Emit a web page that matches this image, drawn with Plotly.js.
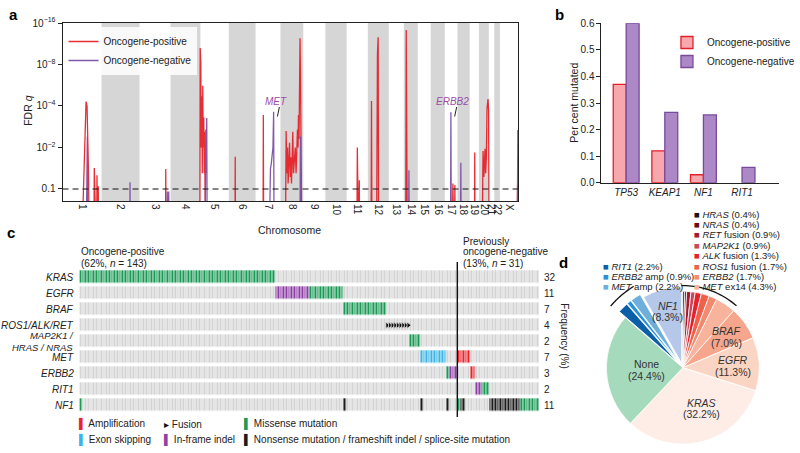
<!DOCTYPE html>
<html>
<head>
<meta charset="utf-8">
<script src="https://cdn.plot.ly/plotly-3.0.1.min.js"></script>
<style>html,body{margin:0;padding:0;background:#fff;}#chart{width:800px;height:453px;}</style>
</head>
<body>
<div id="chart"></div>
<script>
// ================= Panel a : FDR q along the genome =================
const chromNames = ['1','2','3','4','5','6','7','8','9','10','11','12','13','14','15','16','17','18','19','20','21','22','X'];
const chromLengthsMb = [249,243,198,191,181,171,159,146,141,136,135,134,96,89,83,90,81,78,59,63,35,36,155];
const genomeShownMb = 2910;
// oncogene-positive series (cumulative genome position in Mb, FDR q)
const posGenomeMb = [120.5,150.3,156.6,166.7,171.2,199.7,202.9,206.1,217.5,220.0,223.2,226.0,228.2,231.4,
  657.5,659.4,662.5,
  876.8,879.4,881.3,883.2,886.3,889.5,892.7,895.8,899.0,902.2,905.4,908.5,913.0,
  1101.3,1103.2,1105.1, 1280.7,1282.6,1285.1,
  1423.3,1428.4,1432.8,1437.3,1441.1,1445.5,1450.0,1455.0,1458.2,1462.6,1466.4,1470.9,1475.3,1480.4,1486.7,1491.8,1496.2,1500.7,1504.5,1507.0,1510.8,1513.3,1517.2,1520.3,1523.5,1526.7,1529.8,
  1879.8,1883.0,1886.2,1892.5,1895.7,1898.8,
  1970.5,1973.6,1976.8,2005.3,2007.9,2011.7,2016.1,2019.3,
  2191.7,2195.5,2198.7,2203.2,
  2488.5,2493.6,2498.0,2502.4,2506.2,2510.6,
  2631.1,2633.0,2635.6,
  2678.7,2681.8,2686.3,2691.3,2698.9,2702.7,2707.2,2711.6,2718.0,2721.8,2724.9,
  2900.6,2906.9,2910.0];
const posFdrQ = [0.5,5e-5,1e-4,0.066,0.5,0.5,0.038,0.5,0.5,0.055,0.5,0.5,0.09,0.5,
  0.5,0.04,0.5,
  0.5,3e-11,1e-3,6e-9,1e-2,2e-5,5e-2,2.5e-6,1e-2,5e-4,5e-2,2.5e-3,0.5,
  0.5,0.0195,0.5, 0.5,3.6e-4,0.5,
  0.5,2.3e-3,0.05,1e-2,0.08,0.02,6.8e-3,0.06,0.02,0.08,3e-3,2.5e-3,0.05,0.03,0.01,0.05,2.5e-3,2e-3,1e-2,3.6e-4,5e-3,2.2e-5,4e-13,6.3e-7,2e-3,0.02,0.5,
  0.5,0.01,0.5,0.5,0.07,0.5,
  0.5,4.5e-5,0.5,0.5,1.6e-7,3e-10,2.5e-13,0.5,
  0.5,6e-15,1e-4,0.5,
  0.5,0.08,0.09,0.5,0.085,0.5,
  0.5,0.0145,0.5,
  0.5,0.08,0.013,0.06,0.011,0.05,0.02,1.4e-4,3.2e-5,2e-4,0.5,
  0.5,0.085,0.5];
// oncogene-negative series
const negGenomeMb = [150.0,158.5,162.9, 429.2,431.1,433.0, 664.4,668.9,673.9,678.4,681.6,
  909.8,914.9,918.0,921.2,924.4,
  1318.7,1323.2,1328.2,1333.3,1337.7,1344.1,1348.5,1351.7,
  1515.3,1519.7,1522.9, 2209.5,2212.7,2215.8, 2477.7,2480.8,2484.0, 2541.1,2544.3,2547.4,
  2903.7,2908.5,2912.0];
const negFdrQ = [0.5,4e-3,0.5, 0.5,0.076,0.5, 0.5,0.11,0.5,0.11,0.5,
  0.5,2e-3,0.05,5.3e-4,0.5,
  0.5,0.06,0.04,0.03,0.014,0.01,2.3e-4,0.5,
  0.5,4e-3,0.5, 0.5,0.043,0.5, 0.5,2.5e-4,0.5, 0.5,0.028,0.5,
  0.5,2.1e-3,0.5];
const fdrThreshold = 0.1;
const peakLabels = ['MET','ERBB2'];
const peakLabelMb = [1348.5, 2480.8];

// ================= Panel b : per cent mutated =================
const barGenes = ['TP53','KEAP1','NF1','RIT1'];
const barPositive = [0.37,0.12,0.03,0];
const barNegative = [0.60,0.265,0.255,0.058];

// ================= Panel c : oncoprint =================
const oncoRows = ['KRAS','EGFR','BRAF','ROS1/ALK/RET','MAP2K1 /<br>HRAS / NRAS','MET','ERBB2','RIT1','NF1'];
const oncoFrequency = [32,11,7,4,2,7,3,2,11];
const nOncogenePositive = 143;
const nPreviouslyNegative = 31;
const nCohort = 230;
// alteration runs: row index, first sample, number of samples, type
const runRow   = [0,1,1,2,3,4,5,6,6,5,6,7,7,8,8,8,8,8,8,8,8];
const runStart = [0,74,87,100,116,125,129,139,140,143,148,150,152,0,100,129,139,143,144,155,167];
const runCount = [74,13,13,16,9,4,10,1,3,5,2,2,3,1,1,1,1,1,2,12,7];
const runType  = ['missense','inframe','missense','missense','fusion','missense','exonskip','missense','inframe','amp','amp','inframe','missense','missense','nonsense','nonsense','nonsense','missense','nonsense','nonsense','missense'];
const alterationTypes  = ['none','amp','fusion','missense','exonskip','inframe','nonsense'];
const alterationLabels = ['','Amplification','Fusion','Missense mutation','Exon skipping','In-frame indel','Nonsense mutation / frameshift indel / splice-site mutation'];
const alterationColors = ['#d3d3d3','#e8242c','#d3d3d3','#1b9a56','#3cb4e5','#8e3fa6','#1c1c1c'];

// ================= Panel d : pie =================
const pieGene   = ['HRAS','NRAS','RET','MAP2K1','ALK','ROS1','ERBB2','MET','BRAF','EGFR','KRAS','None','RIT1','ERBB2','MET','NF1'];
const pieSuffix = ['','',' fusion','',' fusion',' fusion','',' ex14','','','','','',' amp',' amp',''];
const pieValues = [0.4,0.4,0.9,0.9,1.3,1.7,1.7,4.3,7.0,11.3,32.2,24.4,2.2,0.9,2.2,8.3];
const pieColors = ['#151515','#6b0a14','#a3192e','#c9475a','#e5212b','#ee6049','#f38a6f','#f8b39c','#f5a68c','#fbd5c3','#fdede6','#a6dabd','#0b5ea8','#2a91d6','#6eaedb','#b5c8e9'];
const piePull   = [0,0,0,0,0,0,0,0,0,0,0,0,0.11,0.11,0.11,0.06];
const pieLegendRight = [0,1,2,3,4,5,6,7];
const pieLegendLeft  = [12,13,14];

// ---------------- helpers ----------------
const W = 800, H = 453;
const FONT = 'Liberation Sans, Arial, Helvetica, sans-serif';
const TXT = '#222';
const px = x => x / W;
const py = y => 1 - y / H;
const nlog = q => -Math.log10(q);

const chromStart = [];
{ let acc = 0; chromLengthsMb.forEach(l => { chromStart.push(acc); acc += l; }); }
const chromTick = chromStart.map((s, i) => (s + Math.min(s + chromLengthsMb[i], genomeShownMb)) / 2);

const shapes = [];
const annotations = [];
const traces = [];
function note(o) { annotations.push(Object.assign({showarrow: false, xanchor: 'center', yanchor: 'middle', xref: 'paper', yref: 'paper'}, o)); }

// chromosome bands
chromStart.forEach((s, i) => {
  if (i % 2 === 1) {
    shapes.push({type: 'rect', xref: 'x', yref: 'y domain', x0: s, x1: Math.min(s + chromLengthsMb[i], genomeShownMb),
      y0: 0, y1: 1, fillcolor: '#d6d6d6', line: {width: 0}, layer: 'below'});
  }
});

traces.push({type: 'scatter', mode: 'lines', x: posGenomeMb, y: posFdrQ.map(nlog), xaxis: 'x', yaxis: 'y',
  name: 'Oncogene-positive', line: {color: 'rgba(230,28,36,0.92)', width: 1.3}, hoverinfo: 'skip', legend: 'legend'});
traces.push({type: 'scatter', mode: 'lines', x: negGenomeMb, y: negFdrQ.map(nlog), xaxis: 'x', yaxis: 'y',
  name: 'Oncogene-negative', line: {color: 'rgba(122,80,165,0.95)', width: 1.3}, hoverinfo: 'skip', legend: 'legend'});
traces.push({type: 'scatter', mode: 'lines', x: [0, genomeShownMb], y: [nlog(fdrThreshold), nlog(fdrThreshold)],
  xaxis: 'x', yaxis: 'y', showlegend: false, line: {color: '#111', width: 1.1, dash: '6px,4px'}, hoverinfo: 'skip'});

// gene labels over peaks
const mbPerPx = genomeShownMb / (522 - 63);
peakLabels.forEach((g, i) => {
  const m = peakLabelMb[i];
  note({xref: 'x', x: m + 2 * mbPerPx, y: py(101), text: '<i>' + g + '</i>', font: {family: FONT, size: 10, color: '#9a4ea6'}});
  shapes.push({type: 'line', xref: 'x', yref: 'paper', x0: m + 5.8 * mbPerPx, y0: py(107), x1: m + 3.8 * mbPerPx, y1: py(116.5),
    line: {color: '#222', width: 1}});
});

// ---------------- panel b bars ----------------
traces.push({type: 'bar', x: barGenes, y: barPositive, xaxis: 'x2', yaxis: 'y2', name: 'Oncogene-positive', legend: 'legend2',
  marker: {color: '#f6a8ac', line: {color: '#e3202a', width: barPositive.map(v => v > 0 ? 1.3 : 0)}}, hoverinfo: 'skip'});
traces.push({type: 'bar', x: barGenes, y: barNegative, xaxis: 'x2', yaxis: 'y2', name: 'Oncogene-negative', legend: 'legend2',
  marker: {color: '#ac88c6', line: {color: '#7a4a9c', width: barNegative.map(v => v > 0 ? 1.3 : 0)}}, hoverinfo: 'skip'});

// ---------------- panel c oncoprint ----------------
const nSamples = nOncogenePositive + nPreviouslyNegative;
const z = oncoRows.map(() => new Array(nSamples).fill(0));
const fusionX = [], fusionY = [];
runRow.forEach((ri, k) => {
  const code = alterationTypes.indexOf(runType[k]);
  for (let s = runStart[k]; s < runStart[k] + runCount[k]; s++) {
    z[ri][s] = code;
    if (runType[k] === 'fusion') { fusionX.push(s); fusionY.push(ri); }
  }
});
const nT = alterationTypes.length;
const cscale = [];
alterationColors.forEach((c, k) => { cscale.push([k / nT, c]); cscale.push([(k + 1) / nT, c]); });
traces.push({type: 'heatmap', z: z, x: [...Array(nSamples).keys()], y: [...Array(oncoRows.length).keys()],
  xaxis: 'x3', yaxis: 'y3', colorscale: cscale, zmin: -0.5, zmax: nT - 0.5, showscale: false,
  xgap: 0.8, ygap: 3.6, hoverinfo: 'skip'});
traces.push({type: 'scatter', mode: 'markers', x: fusionX, y: fusionY, xaxis: 'x3', yaxis: 'y3', showlegend: false,
  marker: {symbol: 'triangle-right', size: 5.5, color: '#111', line: {color: '#d8d8d8', width: 0.8}}, hoverinfo: 'skip'});

// row labels and frequencies
oncoRows.forEach((r, i) => {
  note({yref: 'y3', x: px(77), y: i, text: '<i>' + r + '</i>', xanchor: 'right', align: 'right',
    font: {family: FONT, size: r.indexOf('<br>') > 0 ? 9.5 : 10, color: TXT}});
  note({yref: 'y3', x: px(546), y: i, text: String(oncoFrequency[i]), xanchor: 'left', font: {family: FONT, size: 10, color: TXT}});
});
// group divider
shapes.push({type: 'line', xref: 'x3', yref: 'paper', x0: nOncogenePositive - 0.5, x1: nOncogenePositive - 0.5,
  y0: py(417), y1: py(262), line: {color: '#111', width: 1.4}});
const groupText = [
  [80, 252, 'Oncogene-positive'],
  [80, 263.5, '(' + Math.round(100 * nOncogenePositive / nCohort) + '%, <i>n</i> = ' + nOncogenePositive + ')'],
  [464, 241, 'Previously'],
  [464, 252, 'oncogene-negative'],
  [464, 263.5, '(' + Math.round(100 * nPreviouslyNegative / nCohort) + '%, <i>n</i> = ' + nPreviouslyNegative + ')']
];
groupText.forEach(g => note({x: px(g[0]), y: py(g[1]), text: g[2], xanchor: 'left', font: {family: FONT, size: 10, color: TXT}}));
// oncoprint legend
const legPos = [[78, 424], [163, 424], [244, 424], [78, 440], [163, 440], [244, 440]];
[1, 2, 3, 4, 5, 6].forEach((k, j) => {
  const glyph = alterationTypes[k] === 'fusion' ? '▸' : '▌';
  note({x: px(legPos[j][0]), y: py(legPos[j][1]), xanchor: 'left',
    text: '<span style="color:' + (alterationTypes[k] === 'fusion' ? '#111' : alterationColors[k]) + '">' + glyph + '</span> ' + alterationLabels[k],
    font: {family: FONT, size: 10, color: TXT}});
});
note({x: px(569), y: py(336), text: 'Frequency (%)', textangle: 90, font: {family: FONT, size: 10, color: TXT}});

// ---------------- panel d pie ----------------
const pieCx = 688, pieCy = 368, pieR = 77;
const maxPull = Math.max(...piePull);
const half = pieR * (1 + maxPull);
traces.push({type: 'pie', values: pieValues, labels: pieGene.map((g, i) => g + pieSuffix[i]), sort: false, direction: 'clockwise', rotation: 0,
  marker: {colors: pieColors, line: {color: '#fff', width: 0.8}}, pull: piePull, textinfo: 'none',
  showlegend: false, hoverinfo: 'skip',
  domain: {x: [px(pieCx - half), px(pieCx + half)], y: [py(Math.min(pieCy + half, H)), py(pieCy - half)]}});
const tot = pieValues.reduce((a, b) => a + b, 0);
const cum = []; { let a = 0; pieValues.forEach(v => { cum.push(a / tot); a += v; }); }
// slice labels for the large slices: [radius as fraction of pie radius, angular nudge as fraction of turn]
const sliceLabelPlace = {8: [0.70, 0], 9: [0.66, 0], 10: [0.58, -0.03], 11: [0.47, 0], 15: [0.70, 0]};
Object.keys(sliceLabelPlace).forEach(key => {
  const i = +key;
  const a = 2 * Math.PI * (cum[i] + pieValues[i] / tot / 2 + sliceLabelPlace[i][1]);
  const rr = (sliceLabelPlace[i][0] + piePull[i]) * pieR;
  const cx = pieCx + rr * Math.sin(a), cy = pieCy - rr * Math.cos(a);
  const name = pieGene[i] === 'None' ? 'None' : '<i>' + pieGene[i] + '</i>';
  note({x: px(cx), y: py(cy - 5.5), text: name, font: {family: FONT, size: 10.5, color: '#333'}});
  note({x: px(cx), y: py(cy + 6), text: '(' + pieValues[i].toFixed(1) + '%)', font: {family: FONT, size: 10.5, color: '#333'}});
});
function arc(f0, f1, rad) {
  let d = '';
  for (let k = 0; k <= 24; k++) {
    const a = 2 * Math.PI * (f0 + (f1 - f0) * k / 24);
    const x = pieCx + rad * Math.sin(a), y = pieCy - rad * Math.cos(a);
    d += (k ? ' L' : 'M') + px(x).toFixed(5) + ',' + py(y).toFixed(5);
  }
  return d;
}
shapes.push({type: 'path', xref: 'paper', yref: 'paper', path: arc(cum[0] - 0.003, cum[8] - 0.002, pieR * 1.07), line: {color: '#111', width: 1.3}});
shapes.push({type: 'path', xref: 'paper', yref: 'paper', path: arc(cum[12] - 0.002, cum[15] - 0.004, pieR * 1.24), line: {color: '#111', width: 1.3}});
// pie legends
function legLine(i, x, y) {
  note({x: px(x), y: py(y), xanchor: 'left',
    text: '<span style="color:' + pieColors[i] + '">■</span> <i>' + pieGene[i] + '</i>' + pieSuffix[i] + ' (' + pieValues[i].toFixed(1) + '%)',
    font: {family: FONT, size: 9.5, color: TXT}});
}
pieLegendRight.forEach((i, j) => legLine(i, 697, 214 + j * 10.4));
pieLegendLeft.forEach((i, j) => legLine(i, 606, 266 + j * 10.4));

// panel letters and axis titles
[['a', 14, 15], ['b', 564, 15], ['c', 11, 233], ['d', 568, 262]].forEach(l =>
  note({x: px(l[1]), y: py(l[2]), text: '<b>' + l[0] + '</b>', font: {family: FONT, size: 15, color: '#000'}}));
note({x: px(28), y: py(110), text: 'FDR <i>q</i>', textangle: -90, font: {family: FONT, size: 10.5, color: TXT}});
note({x: px(292), y: py(230), text: 'Chromosome', font: {family: FONT, size: 10.5, color: TXT}});
note({x: px(578), y: py(103), text: 'Per cent mutated', textangle: -90, font: {family: FONT, size: 10.5, color: TXT}});

const axBase = {showgrid: false, zeroline: false, color: TXT, tickfont: {family: FONT, size: 10, color: TXT}};
const layout = {
  width: W, height: H, margin: {l: 0, r: 0, t: 0, b: 0}, paper_bgcolor: '#fff', plot_bgcolor: 'rgba(0,0,0,0)',
  font: {family: FONT, color: TXT}, showlegend: true, barmode: 'group', bargap: 0.33, bargroupgap: 0,
  xaxis: Object.assign({}, axBase, {domain: [px(63), px(522)], range: [0, genomeShownMb], tickvals: chromTick, ticktext: chromNames,
    tickangle: 90, ticks: '', showline: true, mirror: true, linecolor: '#222', linewidth: 1, anchor: 'y'}),
  yaxis: Object.assign({}, axBase, {domain: [py(201), py(23)], type: 'log', range: [Math.log10(0.818), Math.log10(16)],
    tickvals: [1, 2, 4, 8, 16], ticktext: ['0.1', '10<sup>−2</sup>', '10<sup>−4</sup>', '10<sup>−8</sup>', '10<sup>−16</sup>'],
    ticks: 'outside', ticklen: 4, tickcolor: '#222', showline: true, mirror: true, linecolor: '#222', linewidth: 1, anchor: 'x'}),
  xaxis2: Object.assign({}, axBase, {domain: [px(606), px(785)], range: [-0.64, 3.96], tickvals: barGenes,
    ticktext: barGenes.map(g => '<i>' + g + '</i>'), ticks: '', showline: true, linecolor: '#222', anchor: 'y2'}),
  yaxis2: Object.assign({}, axBase, {domain: [py(182.7), py(23.3)], range: [0, 0.6], dtick: 0.1, tickformat: '.1f',
    ticks: 'outside', ticklen: 4, tickcolor: '#222', showline: true, linecolor: '#222', anchor: 'x2'}),
  xaxis3: {domain: [px(80), px(543.3)], range: [-0.5, nSamples - 0.5], visible: false, anchor: 'y3'},
  yaxis3: {domain: [py(413.3), py(269.3)], range: [oncoRows.length - 0.5, -0.5], visible: false, anchor: 'x3'},
  legend: {x: px(64), y: py(27), xanchor: 'left', yanchor: 'top', bgcolor: 'rgba(255,255,255,0.85)',
    font: {family: FONT, size: 10, color: TXT}, traceorder: 'normal', tracegroupgap: 0, borderwidth: 0},
  legend2: {x: px(672), y: py(28), xanchor: 'left', yanchor: 'top', bgcolor: 'rgba(0,0,0,0)',
    font: {family: FONT, size: 10, color: TXT}, traceorder: 'normal', tracegroupgap: 0},
  shapes: shapes, annotations: annotations
};
Plotly.newPlot('chart', traces, layout, {staticPlot: true, displayModeBar: false});
</script>
</body>
</html>
